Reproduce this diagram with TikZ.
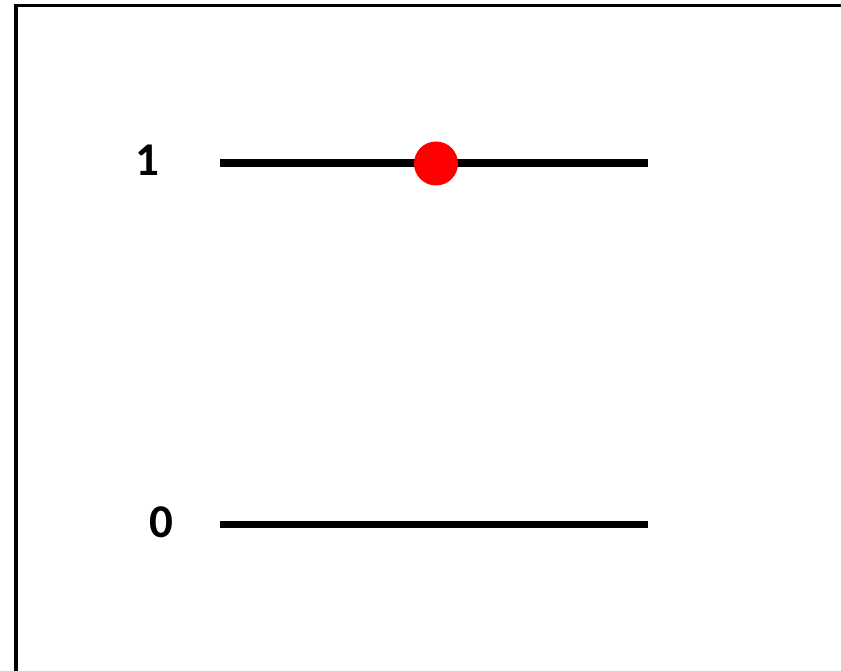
\documentclass[tikz,border=0pt]{standalone}
\usepackage{fontspec}
\setmainfont{Carlito}
\begin{document}
\begin{tikzpicture}[x=1pt,y=-1pt,
  level/.style={line width=7.5pt},
  lbl/.style={font=\fontsize{47}{52}\selectfont\bfseries, inner sep=0pt},
  frame/.style={line width=3.5pt}]
\useasboundingbox (0,0) rectangle (841,671);
\coordinate (tl) at (15.75,5.5);
\coordinate (tr) at (845,5.5);
\coordinate (bl) at (15.75,675);
\draw[frame] (tr) -- (tl) -- (bl);
\coordinate (a1) at (220,163);
\coordinate (b1) at (648,163);
\coordinate (a0) at (220,524.5);
\coordinate (b0) at (648,524.5);
\draw[level] (a1) -- (b1);
\draw[level] (a0) -- (b0);
\node[lbl] (one) at (147,160) {1};
\node[lbl] (zero) at (161,522) {0};
\node[circle, fill=red, minimum size=44pt, inner sep=0pt] (dot) at (436,163.5) {};
\end{tikzpicture}
\end{document}
